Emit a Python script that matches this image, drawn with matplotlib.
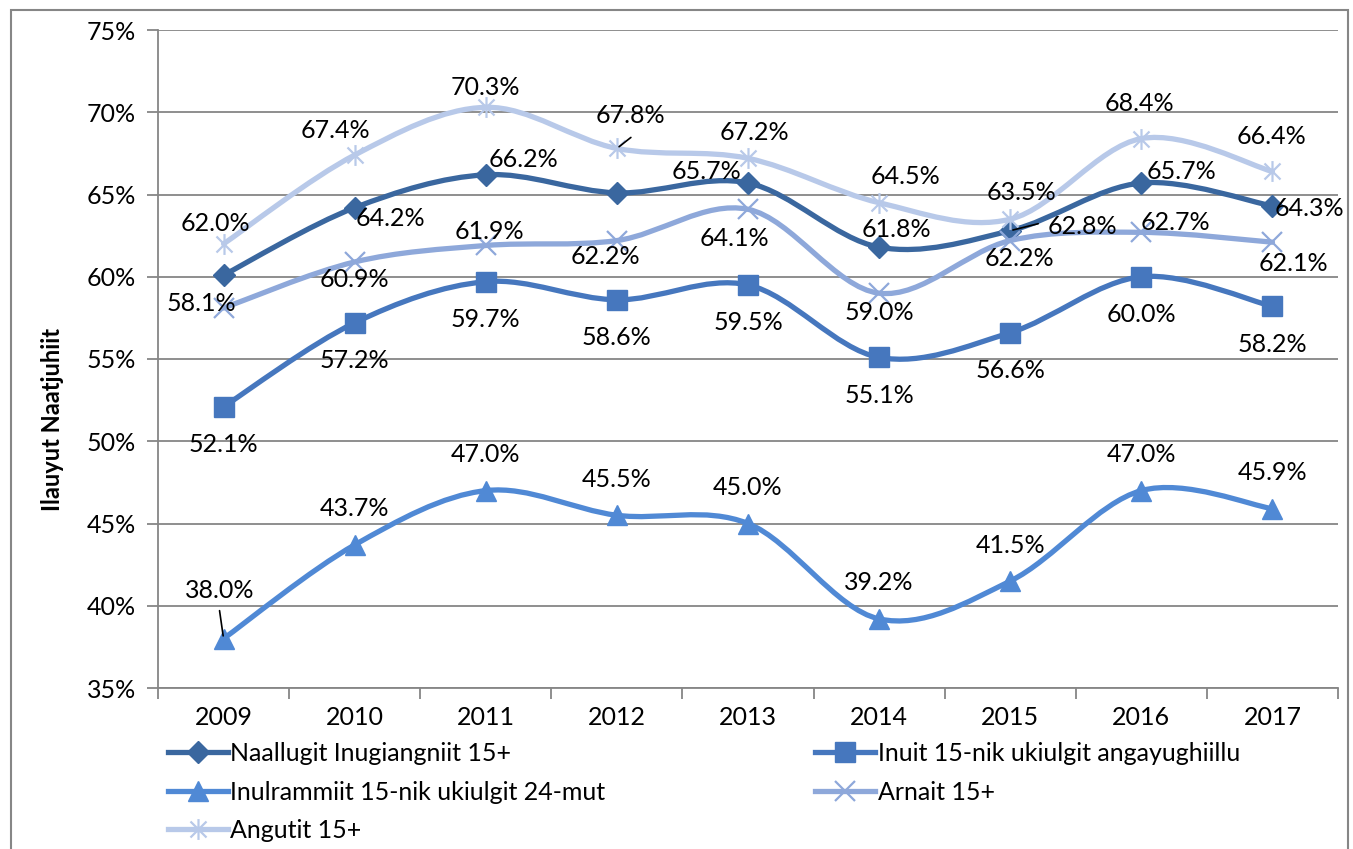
import numpy as np
import matplotlib
matplotlib.use("Agg")
import matplotlib.pyplot as plt
from matplotlib.path import Path
from matplotlib.patches import PathPatch, Rectangle
from matplotlib.lines import Line2D

plt.rcParams['font.family'] = ['Lato', 'DejaVu Sans']

# aasit
years = ['2009', '2010', '2011', '2012', '2013', '2014', '2015', '2016', '2017']

naallugit = [60.1, 64.2, 66.2, 65.1, 65.7, 61.8, 62.8, 65.7, 64.3]
inuit = [52.1, 57.2, 59.7, 58.6, 59.5, 55.1, 56.6, 60.0, 58.2]
inulrammiit = [38.0, 43.7, 47.0, 45.5, 45.0, 39.2, 41.5, 47.0, 45.9]
arnait = [58.1, 60.9, 61.9, 62.2, 64.1, 59.0, 62.2, 62.7, 62.1]
angutit = [62.0, 67.4, 70.3, 67.8, 67.2, 64.5, 63.5, 68.4, 66.4]

names = ['Naallugit Inugiangniit 15+',
         'Inuit 15-nik ukiulgit angayughiillu',
         'Inulrammiit 15-nik ukiulgit 24-mut',
         'Arnait 15+',
         'Angutit 15+']

# asterisk marker: X with a vertical bar
star = Path([(-1, -1), (1, 1), (-1, 1), (1, -1), (0, -1.3), (0, 1.3)],
            [Path.MOVETO, Path.LINETO, Path.MOVETO, Path.LINETO,
             Path.MOVETO, Path.LINETO])

# label offsets in pixels (dx, dy downward), None = no label
lab_naallugit = [None, (36, 11), (38, -15), None, (-42, -11), (17, -18),
                 (72, -4), (40, -11), (37, 2)]
lab_inuit = [(0, 38)] * 9
lab_inulrammiit = [(-4, -48)] + [(0, -36)] * 8
lab_arnait = [(-22, -5), (0, 18), (4, -14), (-11, 16), (-14, 29), (0, 19),
              (9, 18), (34, -10), (21, 21)]
lab_angutit = [(-8, -20), (-19, -25), (0, -20), (14, -33), (6, -26),
               (26, -26), (11, -27), (-2, -35), (-1, -35)]

series = [
    (naallugit, '#3A679F', 'D', 11, lab_naallugit),
    (inuit, '#4677BE', 's', 14, lab_inuit),
    (inulrammiit, '#5089D5', '^', 14, lab_inulrammiit),
    (arnait, '#8EA8DA', 'x', 14, lab_arnait),
    (angutit, '#B8C9E9', star, 15, lab_angutit),
]

# leader lines: (series index, point index, start dx, start dy) in pixels
leaders = [(2, 0, -4, -28), (4, 3, 14, -11), (0, 6, 28, -7)]


def smooth_path(xs, ys):
    # cubic bezier through the points, catmull-rom style control points
    pts = np.column_stack([xs, ys]).astype(float)
    n = len(pts)
    verts = [pts[0]]
    codes = [Path.MOVETO]
    for i in range(n - 1):
        p0 = pts[i - 1] if i > 0 else pts[i]
        p1 = pts[i]
        p2 = pts[i + 1]
        p3 = pts[i + 2] if i + 2 < n else pts[i + 1]
        verts += [p1 + (p2 - p0) / 6, p2 - (p3 - p1) / 6, p2]
        codes += [Path.CURVE4] * 3
    return Path(verts, codes)


fig = plt.figure(figsize=(13.53, 8.49), dpi=100)
ax = fig.add_axes([158 / 1353, 1 - 688 / 849, 1180 / 1353, 658 / 849])

x = np.arange(len(years))
grey = '#868686'
fs = 18
handles = []
for k, (vals, col, mk, ms, labs) in enumerate(series):
    z = 3 + k
    ax.add_patch(PathPatch(smooth_path(x, vals), fill=False, edgecolor=col,
                           lw=3.8, capstyle='round', joinstyle='round',
                           zorder=z))
    mew = 1.6 if mk == 'x' or mk is star else 1
    ax.plot(x, vals, linestyle='none', marker=mk, ms=ms, color=col,
            markeredgecolor=col, markeredgewidth=mew, zorder=z)
    handles.append(Line2D([], [], color=col, lw=3.8, marker=mk, ms=ms,
                          markeredgecolor=col, markeredgewidth=mew))
    for i, v in enumerate(vals):
        if labs[i] is None:
            continue
        dx, dy = labs[i]
        ax.annotate(f'{v:.1f}%', (i, v), xytext=(dx, -dy),
                    textcoords='offset pixels', ha='center', va='center',
                    fontsize=fs, color='black', zorder=10)

for s, i, dx, dy in leaders:
    v = series[s][0][i]
    ax.annotate('', (i, v), xytext=(dx, -dy), textcoords='offset pixels',
                arrowprops=dict(arrowstyle='-', color='black', lw=1.2,
                                shrinkA=0, shrinkB=2), zorder=11)

ax.set_xlim(-0.5, len(years) - 0.5)
ax.set_ylim(35, 75)
ax.set_yticks(np.arange(35, 76, 5))
ax.set_yticklabels([f'{t}%' for t in range(35, 76, 5)])
ax.set_xticks(x)
ax.set_xticklabels(years)
ax.set_xticks(np.arange(-0.5, len(years)), minor=True)
ax.tick_params(axis='x', which='major', length=0, pad=13, labelsize=fs)
ax.tick_params(axis='x', which='minor', length=8, width=1.3, color=grey,
               direction='out')
ax.tick_params(axis='y', length=8, width=1.3, color=grey, pad=8,
               labelsize=fs)
ax.yaxis.grid(True, color=grey, lw=1.3)
ax.set_axisbelow(True)
for side in ('top', 'right'):
    ax.spines[side].set_visible(False)
for side in ('left', 'bottom'):
    ax.spines[side].set_color(grey)
    ax.spines[side].set_linewidth(1.3)

fig.text(52 / 1353, 1 - 420 / 849, 'Ilauyut Naatjuhiit', rotation=90,
         ha='center', va='center', fontsize=17, fontweight='bold')

# legend in two columns, row by row
leg_kw = dict(loc='upper left', frameon=False, fontsize=fs, handlelength=2.4,
              handletextpad=0.1, labelspacing=0.62, borderpad=0,
              borderaxespad=0)
fig.legend([handles[0], handles[2], handles[4]],
           [names[0], names[2], names[4]],
           bbox_to_anchor=(168 / 1353, 1 - 742 / 849), **leg_kw)
fig.legend([handles[1], handles[3]], [names[1], names[3]],
           bbox_to_anchor=(815 / 1353, 1 - 742 / 849), **leg_kw)

# outer chart border
fig.patches.append(Rectangle((11 / 1353, -0.05), 1337 / 1353,
                             1.05 - 10 / 849, transform=fig.transFigure,
                             fill=False, edgecolor=grey, lw=1.5))

fig.savefig('out.png', dpi=100)
